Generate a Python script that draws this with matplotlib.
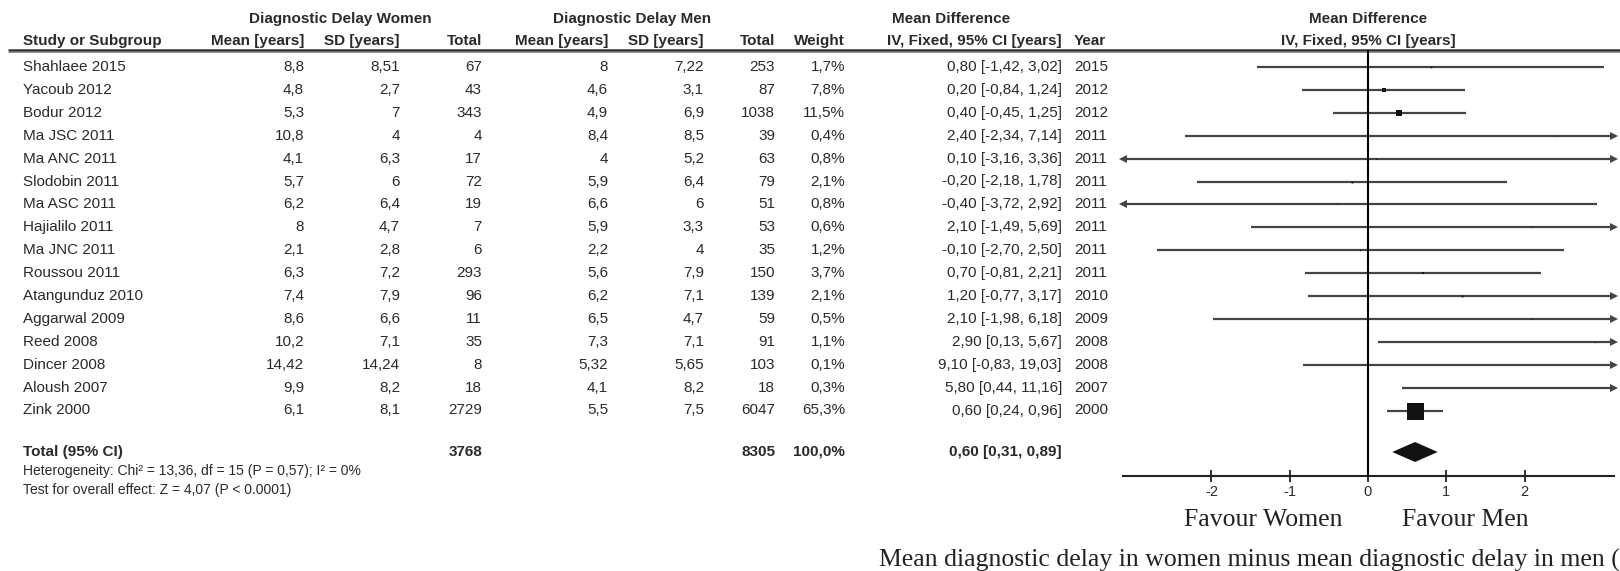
import matplotlib
matplotlib.use('Agg')
import matplotlib.pyplot as plt
import numpy as np

plt.rcParams['font.family'] = ['Liberation Sans', 'DejaVu Sans']
plt.rcParams['axes.unicode_minus'] = False

studies = ['Shahlaee 2015', 'Yacoub 2012', 'Bodur 2012', 'Ma JSC 2011', 'Ma ANC 2011',
           'Slodobin 2011', 'Ma ASC 2011', 'Hajialilo 2011', 'Ma JNC 2011', 'Roussou 2011',
           'Atangunduz 2010', 'Aggarwal 2009', 'Reed 2008', 'Dincer 2008', 'Aloush 2007',
           'Zink 2000']
w_mean = [8.8, 4.8, 5.3, 10.8, 4.1, 5.7, 6.2, 8, 2.1, 6.3, 7.4, 8.6, 10.2, 14.42, 9.9, 6.1]
w_sd = [8.51, 2.7, 7, 4, 6.3, 6, 6.4, 4.7, 2.8, 7.2, 7.9, 6.6, 7.1, 14.24, 8.2, 8.1]
w_total = [67, 43, 343, 4, 17, 72, 19, 7, 6, 293, 96, 11, 35, 8, 18, 2729]
m_mean = [8, 4.6, 4.9, 8.4, 4, 5.9, 6.6, 5.9, 2.2, 5.6, 6.2, 6.5, 7.3, 5.32, 4.1, 5.5]
m_sd = [7.22, 3.1, 6.9, 8.5, 5.2, 6.4, 6, 3.3, 4, 7.9, 7.1, 4.7, 7.1, 5.65, 8.2, 7.5]
m_total = [253, 87, 1038, 39, 63, 79, 51, 53, 35, 150, 139, 59, 91, 103, 18, 6047]
weight = [1.7, 7.8, 11.5, 0.4, 0.8, 2.1, 0.8, 0.6, 1.2, 3.7, 2.1, 0.5, 1.1, 0.1, 0.3, 65.3]
md = [0.80, 0.20, 0.40, 2.40, 0.10, -0.20, -0.40, 2.10, -0.10, 0.70, 1.20, 2.10, 2.90, 9.10, 5.80, 0.60]
ci_lo = [-1.42, -0.84, -0.45, -2.34, -3.16, -2.18, -3.72, -1.49, -2.70, -0.81, -0.77, -1.98,
         0.13, -0.83, 0.44, 0.24]
ci_hi = [3.02, 1.24, 1.25, 7.14, 3.36, 1.78, 2.92, 5.69, 2.50, 2.21, 3.17, 6.18, 5.67, 19.03,
         11.16, 0.96]
year = [2015, 2012, 2012, 2011, 2011, 2011, 2011, 2011, 2011, 2011, 2010, 2009, 2008, 2008,
        2007, 2000]
total_w = 3768
total_m = 8305
total_md, total_lo, total_hi = 0.60, 0.31, 0.89
xticks = [-2, -1, 0, 1, 2]

W, H = 1620, 571
fig = plt.figure(figsize=(W / 100, H / 100), dpi=100)
fig.patch.set_facecolor('white')

# table layer in pixel coordinates
tab = fig.add_axes([0, 0, 1, 1])
tab.set_xlim(0, W)
tab.set_ylim(H, 0)
tab.axis('off')

TXT = '#2a2a2a'
FS = 11
y0, dy = 67, 22.9


def ry(i):
    return y0 + dy * i


def num(v):
    return f'{v:g}'.replace('.', ',')


def ci(m, lo, hi):
    return f'{m:.2f} [{lo:.2f}, {hi:.2f}]'.replace('.', ',')


# column edges (px)
c_study = 23
c_wm, c_wsd, c_wt = 304, 400, 482
c_mm, c_msd, c_mt, c_wt2 = 608, 704, 775, 845
c_ci, c_year = 1062, 1074

hb = dict(fontsize=FS, fontweight='bold', color=TXT, va='center')
tab.text(340, 19, 'Diagnostic Delay Women', ha='center', **hb)
tab.text(632, 19, 'Diagnostic Delay Men', ha='center', **hb)
tab.text(951, 19, 'Mean Difference', ha='center', **hb)
tab.text(1368, 19, 'Mean Difference', ha='center', **hb)
hy = 41
tab.text(c_study, hy, 'Study or Subgroup', ha='left', **hb)
tab.text(c_wm, hy, 'Mean [years]', ha='right', **hb)
tab.text(c_wsd, hy, 'SD [years]', ha='right', **hb)
tab.text(c_wt, hy, 'Total', ha='right', **hb)
tab.text(c_mm, hy, 'Mean [years]', ha='right', **hb)
tab.text(c_msd, hy, 'SD [years]', ha='right', **hb)
tab.text(c_mt, hy, 'Total', ha='right', **hb)
tab.text(c_wt2, hy, 'Weight', ha='right', **hb)
tab.text(c_ci, hy, 'IV, Fixed, 95% CI [years]', ha='right', **hb)
tab.text(c_year, hy, 'Year', ha='left', **hb)
tab.text(1368, hy, 'IV, Fixed, 95% CI [years]', ha='center', **hb)
tab.plot([8, W], [50, 50], color='#333333', lw=1.8, solid_capstyle='butt')
tab.plot([8, W], [52, 52], color='#999999', lw=0.8, solid_capstyle='butt')

rt = dict(fontsize=FS, color=TXT, va='center')
for i, s in enumerate(studies):
    y = ry(i)
    tab.text(c_study, y, s, ha='left', **rt)
    tab.text(c_wm, y, num(w_mean[i]), ha='right', **rt)
    tab.text(c_wsd, y, num(w_sd[i]), ha='right', **rt)
    tab.text(c_wt, y, str(w_total[i]), ha='right', **rt)
    tab.text(c_mm, y, num(m_mean[i]), ha='right', **rt)
    tab.text(c_msd, y, num(m_sd[i]), ha='right', **rt)
    tab.text(c_mt, y, str(m_total[i]), ha='right', **rt)
    tab.text(c_wt2, y, f'{weight[i]:.1f}%'.replace('.', ','), ha='right', **rt)
    tab.text(c_ci, y, ci(md[i], ci_lo[i], ci_hi[i]), ha='right', **rt)
    tab.text(c_year, y, str(year[i]), ha='left', **rt)

ty = 452
tab.text(c_study, ty, 'Total (95% CI)', ha='left', **hb)
tab.text(c_wt, ty, str(total_w), ha='right', **hb)
tab.text(c_mt, ty, str(total_m), ha='right', **hb)
tab.text(c_wt2, ty, f'{sum(weight):.1f}%'.replace('.', ','), ha='right', **hb)
tab.text(c_ci, ty, ci(total_md, total_lo, total_hi), ha='right', **hb)
tab.text(c_study, 471, 'Heterogeneity: Chi² = 13,36, df = 15 (P = 0,57); I² = 0%',
         ha='left', fontsize=10, color=TXT, va='center')
tab.text(c_study, 490, 'Test for overall effect: Z = 4,07 (P < 0.0001)',
         ha='left', fontsize=10, color=TXT, va='center')

# forest plot
x0_px, unit = 1368, 78.3
top_px, bot_px = 50, 476
left_px, right_px = 1110, W
ax = fig.add_axes([left_px / W, (H - bot_px) / H, (right_px - left_px) / W,
                   (bot_px - top_px) / H])
ax.set_xlim((left_px - x0_px) / unit, (right_px - x0_px) / unit)
ax.set_ylim((bot_px - y0) / dy, (top_px - y0) / dy)
ax.patch.set_alpha(0)
lo_lim, hi_lim = -3.13, 3.14

ax.plot([0, 0], list(ax.get_ylim()), color='black', lw=1.5, zorder=3)
LC = '#444444'
for i in range(len(studies)):
    a = max(ci_lo[i], lo_lim)
    b = min(ci_hi[i], hi_lim)
    ax.plot([a, b], [i, i], color=LC, lw=1.6, solid_capstyle='butt', zorder=2)
    if ci_lo[i] < lo_lim:
        ax.plot(lo_lim, i, marker='<', color=LC, ms=6, mew=0, zorder=2)
    if ci_hi[i] > hi_lim:
        ax.plot(hi_lim, i, marker='>', color=LC, ms=6, mew=0, zorder=2)
    side = 17 * (weight[i] / max(weight)) ** 0.65 * 0.72
    ax.plot(md[i], i, marker='s', color='#111111', ms=side, mew=0, zorder=4)

tr = (ty - y0) / dy
hh = 10 / dy
ax.fill([total_lo, total_md, total_hi, total_md], [tr, tr - hh, tr, tr + hh],
        color='#111111', lw=0, zorder=4)

for sp in ['left', 'right', 'top']:
    ax.spines[sp].set_visible(False)
ax.spines['bottom'].set_bounds(lo_lim, hi_lim)
ax.spines['bottom'].set_linewidth(1.5)
ax.spines['bottom'].set_color('#222222')
ax.set_yticks([])
ax.set_xticks(xticks)
ax.set_xticklabels([str(t) for t in xticks])
ax.tick_params(axis='x', direction='inout', length=9, width=1.3, color='#222222',
               labelsize=10.5, labelcolor=TXT, pad=2)

serif = dict(family=['Liberation Serif', 'DejaVu Serif'], fontsize=18.5, color='#222222',
             va='center')
tab.text(1263, 520, 'Favour Women', ha='center', **serif)
tab.text(1465, 520, 'Favour Men', ha='center', **serif)
tab.text(879, 560, 'Mean diagnostic delay in women minus mean diagnostic delay in men (',
         ha='left', **serif)

fig.savefig('out.png', dpi=100, facecolor='white')
